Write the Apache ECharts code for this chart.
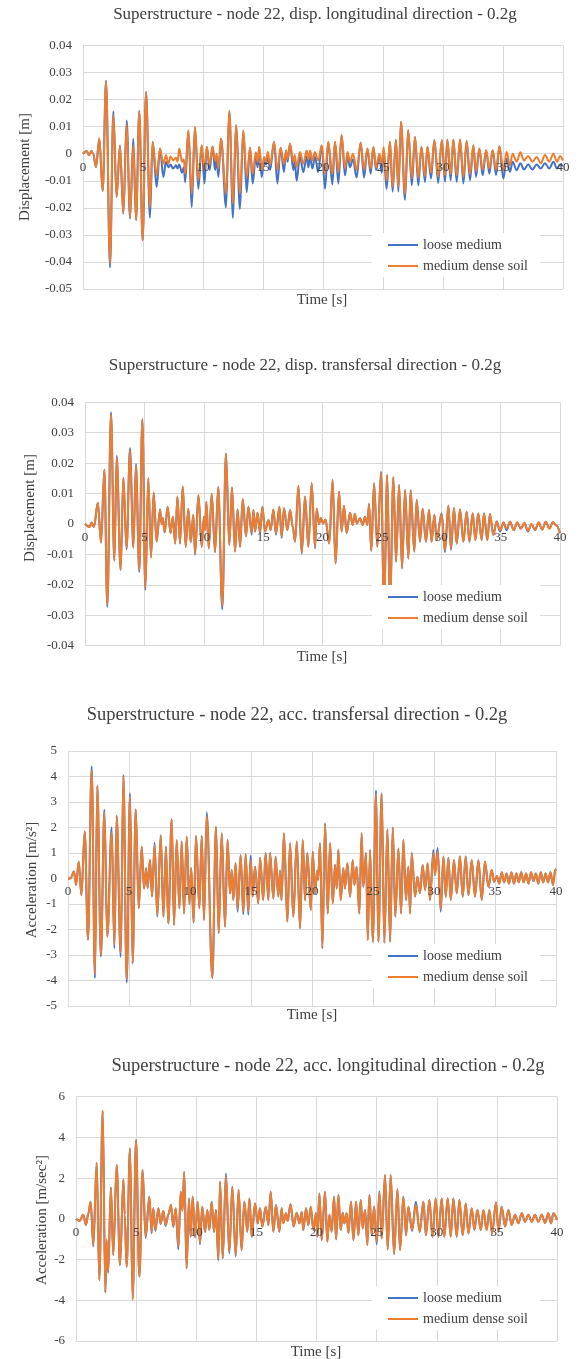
<!DOCTYPE html>
<html>
<head>
<meta charset="utf-8">
<script src="https://cdn.jsdelivr.net/npm/echarts@6/dist/echarts.min.js"></script>
<style>
html,body{margin:0;padding:0;background:#fff;}
#c{width:580px;height:1359px;}
</style>
</head>
<body>
<div id="c"></div>
<script>
// ---------- DATA ----------
var seriesNames = ['loose medium', 'medium dense soil'];
var xTicks = [0, 5, 10, 15, 20, 25, 30, 35, 40];
var titles = [
  'Superstructure - node 22, disp. longitudinal direction - 0.2g',
  'Superstructure - node 22, disp. transfersal direction - 0.2g',
  'Superstructure - node 22, acc. transfersal direction - 0.2g',
  'Superstructure - node 22, acc. longitudinal direction - 0.2g'
];
var yNames = ['Displacement [m]', 'Displacement [m]', 'Acceleration [m/s\u00B2]', 'Acceleration [m/sec\u00B2]'];
var xName = 'Time [s]';

// Chart 1: displacement, longitudinal
var time1 = [
0, 0.3, 0.5, 0.7, 0.85, 1.08, 1.36, 1.64,
1.92, 2.25, 2.53, 2.8, 3.08, 3.36, 3.64, 3.92,
4.19, 4.42, 4.69, 4.97, 5.25, 5.58, 5.8, 6.14,
6.42, 6.69, 6.92, 7.11, 7.3, 7.5, 7.75, 7.88,
8.02, 8.25, 8.4, 8.52, 8.78, 9.06, 9.33, 9.61,
9.89, 10.12, 10.32, 10.55, 10.8, 11.0, 11.14, 11.28,
11.5, 11.92, 12.19, 12.5, 12.75, 13.08, 13.36, 13.64,
13.92, 14.14, 14.4, 14.55, 14.69, 14.89, 15.1, 15.25,
15.4, 15.6, 15.92, 16.2, 16.47, 16.75, 16.92, 17.05,
17.25, 17.53, 17.65, 17.8, 18.08, 18.36, 18.64, 18.78,
18.92, 19.12, 19.33, 19.6, 19.89, 20.17, 20.44, 20.78,
21.0, 21.28, 21.55, 21.83, 22.05, 22.25, 22.5, 22.8,
23.14, 23.42, 23.7, 23.97, 24.2, 24.42, 24.7, 24.9,
25.05, 25.3, 25.58, 25.8, 26.08, 26.28, 26.5, 26.83,
27.1, 27.4, 27.67, 27.94, 28.2, 28.5, 28.7, 29.0,
29.28, 29.6, 29.9, 30.17, 30.36, 30.64, 30.86, 31.14,
31.42, 31.7, 31.97, 32.25, 32.53, 32.75, 33.03, 33.3,
33.6, 33.86, 34.14, 34.42, 34.7, 35.03, 35.3, 35.58,
35.8, 36.14, 36.45, 36.75, 37.1, 37.45, 37.8, 38.15,
38.5, 38.85, 39.2, 39.5, 39.75, 40
];
var loose1 = [
0, 0.001, -0.0005, 0.001, 0, -0.005, 0.0056, -0.0138,
0.027, -0.042, 0.0157, -0.016, 0.003, -0.0222, 0.0123, -0.024,
0.0056, -0.0245, 0.0158, -0.032, 0.0228, -0.0237, 0.0043, -0.0123,
0.0019, -0.0086, -0.003, -0.005, -0.004, -0.0055, -0.0043, -0.0055,
-0.004, -0.007, -0.005, -0.0105, 0.0086, -0.0198, 0.0099, -0.013,
0.003, -0.011, 0.0025, -0.006, 0.0027, -0.006, -0.002, -0.0086,
0.0055, -0.0198, 0.0158, -0.0237, 0.0105, -0.0204, 0.0086, -0.0142,
0.0022, -0.011, -0.001, -0.005, 0.0025, -0.0086, -0.002, -0.004,
-0.001, -0.006, 0.0043, -0.011, 0.0022, -0.0068, 0.0012, -0.003,
0.0037, -0.006, -0.003, -0.01, -0.001, -0.0068, -0.001, -0.005,
-0.0012, -0.0055, -0.001, -0.0068, 0.003, -0.013, 0.0043, -0.0113,
0.0043, -0.011, 0.0068, -0.008, -0.001, -0.005, -0.002, -0.0088,
0.0041, -0.0088, 0.0019, -0.0074, 0.0025, -0.006, -0.001, -0.007,
0.001, -0.013, 0.0044, -0.014, 0.0052, -0.014, 0.0118, -0.017,
0.0087, -0.0117, 0.0062, -0.0117, 0.0025, -0.0105, 0.0025, -0.0092,
0.005, -0.0108, 0.005, -0.0104, 0.0052, -0.0098, 0.0052, -0.0104,
0.0052, -0.011, 0.0047, -0.0098, 0.003, -0.0086, 0.0019, -0.008,
0.0013, -0.0074, 0.0013, -0.008, 0.0028, -0.0092, -0.0018, -0.0067,
-0.003, -0.0061, -0.0035, -0.0058, -0.004, -0.0058, -0.004, -0.0055,
-0.0035, -0.0055, -0.003, -0.0055, -0.004, -0.0045
];
var dense1 = [
0, 0.001, -0.0005, 0.001, 0, -0.005, 0.0056, -0.0138,
0.027, -0.0405, 0.0142, -0.016, 0.003, -0.022, 0.011, -0.0235,
0.003, -0.0245, 0.0155, -0.032, 0.0228, -0.0198, 0.0043, -0.008,
0.0019, -0.0037, -0.0006, -0.0037, -0.001, -0.0025, -0.0015, -0.003,
0.0019, -0.003, -0.002, -0.0074, 0.0086, -0.0148, 0.0099, -0.0099,
0.003, -0.006, 0.0025, -0.004, 0.0027, -0.0025, 0, -0.0055,
0.0055, -0.0148, 0.0158, -0.0185, 0.0105, -0.0148, 0.0086, -0.0086,
0.0022, -0.0074, 0.0005, -0.003, 0.0025, -0.006, -0.0012, -0.003,
0.0006, -0.004, 0.0043, -0.006, 0.0022, -0.0037, 0.0012, -0.002,
0.0037, -0.003, -0.0005, -0.005, 0.0006, -0.0037, 0.0012, -0.002,
0.0012, -0.0025, 0.0006, -0.0025, 0.003, -0.0074, 0.0043, -0.0074,
0.0043, -0.0068, 0.0068, -0.0055, 0.0006, -0.003, 0, -0.006,
0.0041, -0.006, 0.0019, -0.0055, 0.0025, -0.005, 0, -0.0045,
0.0025, -0.01, 0.0044, -0.0123, 0.0052, -0.0123, 0.0118, -0.0148,
0.0087, -0.009, 0.0062, -0.009, 0.0025, -0.0083, 0.0025, -0.007,
0.005, -0.0086, 0.005, -0.008, 0.0052, -0.0075, 0.0052, -0.008,
0.0052, -0.0085, 0.0047, -0.0075, 0.003, -0.0065, 0.0019, -0.006,
0.0013, -0.0055, 0.0013, -0.006, 0.0028, -0.0061, 0.0007, -0.0043,
0, -0.003, 0.0005, -0.0025, -0.0008, -0.003, -0.0012, -0.0035,
-0.0005, -0.003, 0, -0.003, -0.0008, -0.0025
];

// Chart 2: displacement, transversal
var time2 = [
0, 0.4, 0.55, 0.75, 1.08, 1.35, 1.63, 1.88,
2.19, 2.47, 2.67, 3.0, 3.23, 3.5, 3.79, 4.07,
4.29, 4.57, 4.83, 5.08, 5.33, 5.56, 5.78, 6.03,
6.32, 6.45, 6.55, 6.71, 6.96, 7.2, 7.4, 7.6,
7.78, 8.0, 8.23, 8.48, 8.7, 8.9, 9.12, 9.27,
9.55, 9.83, 10.02, 10.12, 10.22, 10.42, 10.67, 10.95,
11.22, 11.56, 11.87, 12.15, 12.38, 12.63, 12.85, 13.06,
13.28, 13.56, 13.76, 14.04, 14.18, 14.32, 14.52, 14.74,
14.94, 15.16, 15.44, 15.64, 15.86, 16.08, 16.37, 16.56,
16.76, 17.04, 17.27, 17.5, 17.69, 17.97, 18.25, 18.53,
18.81, 19.09, 19.37, 19.51, 19.7, 19.85, 20.05, 20.25,
20.57, 20.85, 21.1, 21.39, 21.61, 21.81, 22.03, 22.32,
22.54, 22.73, 22.88, 23.16, 23.38, 23.58, 23.78, 23.92,
24.11, 24.34, 24.62, 24.93, 25.18, 25.45, 25.68, 25.97,
26.19, 26.45, 26.7, 26.95, 27.23, 27.42, 27.73, 27.93,
28.21, 28.43, 28.71, 28.97, 29.19, 29.42, 29.61, 30.03,
30.31, 30.6, 30.82, 31.07, 31.3, 31.58, 31.86, 32.14,
32.37, 32.65, 32.87, 33.12, 33.4, 33.6, 33.88, 34.1,
34.38, 34.67, 34.95, 35.25, 35.5, 35.8, 36.1, 36.4,
36.7, 37.0, 37.3, 37.6, 37.9, 38.2, 38.5, 38.8,
39.1, 39.4, 39.7, 40
];
var loose2 = [
0, -0.001, 0.0005, -0.001, 0.007, -0.0061, 0.0178, -0.0272,
0.0367, -0.012, 0.0224, -0.0151, 0.0152, -0.0083, 0.0249, -0.0077,
0.0197, -0.0157, 0.0344, -0.0217, 0.015, -0.011, 0.0103, -0.0058,
0.0048, 0, 0.002, -0.0028, 0.0057, -0.003, 0.0024, -0.0064,
0.009, -0.0064, 0.0123, -0.0075, 0.005, -0.006, 0.003, -0.01,
0.0095, -0.0075, 0.0024, -0.002, 0.0073, -0.008, 0.0099, -0.0093,
0.0122, -0.028, 0.0232, -0.0069, 0.012, -0.009, 0.0048, -0.0075,
0.0081, -0.004, 0.0057, -0.0035, 0.0046, -0.0025, 0.0037, -0.003,
0.0057, -0.0025, 0.0013, -0.002, 0.0048, -0.0035, 0.0057, -0.0045,
0.0052, -0.002, 0.0046, -0.001, -0.0058, 0.0125, -0.0098, 0.009,
-0.0075, 0.0134, -0.008, 0.005, 0, 0.002, 0.0002, 0.0015,
-0.0064, 0.0145, -0.013, 0.0106, -0.0025, 0.006, -0.003, 0.0037,
-0.0003, 0.0033, 0.0002, 0.0019, -0.0003, 0.0024, -0.0003, 0.0066,
-0.0088, 0.0134, -0.0075, 0.0172, -0.0275, 0.0161, -0.0275, 0.0154,
-0.0124, 0.0128, -0.0146, 0.0112, -0.0113, 0.0112, -0.0091, 0.0079,
-0.0058, 0.005, -0.0058, 0.0046, -0.0058, 0.003, -0.0053, 0.0035,
-0.0092, 0.006, -0.0085, 0.0052, -0.0064, 0.0048, -0.0058, 0.004,
-0.0058, 0.0035, -0.0053, 0.0035, -0.0053, 0.0035, -0.0053, 0.0033,
-0.0036, 0.0008, -0.0025, 0.0005, -0.002, 0.0007, -0.002, 0.0005,
-0.0015, 0.0003, -0.0025, 0, -0.002, 0.0005, -0.0018, 0.0007,
-0.0015, 0.0006, -0.0005, -0.003
];
var dense2 = [
0, -0.001, 0.0005, -0.001, 0.007, -0.0061, 0.0178, -0.0265,
0.036, -0.012, 0.0218, -0.0151, 0.0152, -0.0078, 0.0242, -0.0077,
0.019, -0.015, 0.0344, -0.021, 0.015, -0.011, 0.0103, -0.0058,
0.0048, 0, 0.002, -0.0025, 0.0057, -0.003, 0.0024, -0.0064,
0.009, -0.0064, 0.0123, -0.0075, 0.005, -0.006, 0.003, -0.0097,
0.0095, -0.0075, 0.0024, -0.002, 0.0073, -0.008, 0.0099, -0.009,
0.012, -0.027, 0.0232, -0.0069, 0.012, -0.009, 0.0048, -0.0075,
0.0081, -0.004, 0.0057, -0.003, 0.0046, -0.0025, 0.0037, -0.0025,
0.0057, -0.0025, 0.0013, -0.002, 0.0048, -0.003, 0.0057, -0.004,
0.0052, -0.002, 0.0046, -0.001, -0.0058, 0.0125, -0.0094, 0.009,
-0.0075, 0.0134, -0.0075, 0.005, 0, 0.002, 0.0002, 0.0015,
-0.0064, 0.0145, -0.013, 0.0106, -0.0025, 0.006, -0.003, 0.0037,
-0.0003, 0.0033, 0.0002, 0.0019, -0.0003, 0.0024, -0.0003, 0.0066,
-0.0088, 0.0134, -0.0075, 0.0167, -0.027, 0.0161, -0.027, 0.0154,
-0.0124, 0.0128, -0.0146, 0.0112, -0.0113, 0.0112, -0.0091, 0.0079,
-0.0058, 0.005, -0.0058, 0.0046, -0.0058, 0.003, -0.0053, 0.0033,
-0.0086, 0.006, -0.008, 0.0052, -0.0064, 0.0048, -0.0058, 0.004,
-0.0058, 0.0035, -0.0053, 0.0035, -0.0053, 0.0035, -0.0053, 0.0033,
-0.0036, 0.0008, -0.002, 0.0005, -0.0015, 0.0007, -0.002, 0.0005,
-0.0015, 0.0003, -0.0022, 0, -0.002, 0.0005, -0.0018, 0.0007,
-0.0015, 0.0006, -0.0005, -0.003
];

// Chart 3: acceleration, transversal
var time3 = [
0, 0.2, 0.49, 0.66, 0.88, 1.1, 1.37, 1.64,
1.94, 2.21, 2.4, 2.7, 2.98, 3.22, 3.58, 3.8,
3.99, 4.32, 4.54, 4.81, 5.08, 5.3, 5.55, 5.8,
6.04, 6.23, 6.4, 6.53, 6.72, 6.89, 7.1, 7.32,
7.6, 7.82, 8.03, 8.22, 8.5, 8.69, 8.91, 9.13,
9.32, 9.51, 9.73, 9.95, 10.1, 10.3, 10.49, 10.77,
10.96, 11.15, 11.37, 11.83, 12.13, 12.35, 12.6, 12.87,
13.08, 13.28, 13.42, 13.55, 13.74, 13.9, 14.15, 14.37,
14.56, 14.78, 14.97, 15.14, 15.33, 15.6, 15.74, 16.0,
16.2, 16.42, 16.56, 16.83, 17.02, 17.24, 17.38, 17.5,
17.7, 17.98, 18.2, 18.47, 18.75, 19.02, 19.24, 19.43,
19.62, 19.9, 20.06, 20.25, 20.42, 20.5, 20.66, 20.85,
21.07, 21.29, 21.48, 21.7, 21.89, 22.03, 22.16, 22.35,
22.57, 22.7, 22.9, 23.12, 23.34, 23.47, 23.66, 23.88,
24.07, 24.2, 24.43, 24.57, 24.76, 24.98, 25.25, 25.44,
25.71, 25.93, 26.18, 26.4, 26.62, 26.83, 27.08, 27.3,
27.49, 27.7, 27.9, 28.04, 28.17, 28.45, 28.64, 28.85,
29.07, 29.27, 29.48, 29.67, 29.95, 30.08, 30.3, 30.55,
30.77, 30.96, 31.18, 31.37, 31.64, 31.86, 32.13, 32.35,
32.6, 32.82, 33.09, 33.36, 33.64, 33.91, 34.18, 34.46,
34.73, 34.92, 35.15, 35.35, 35.55, 35.75, 35.95, 36.15,
36.35, 36.55, 36.75, 36.95, 37.15, 37.35, 37.55, 37.75,
37.95, 38.15, 38.35, 38.55, 38.75, 38.95, 39.15, 39.35,
39.55, 39.75, 39.95, 40
];
var loose3 = [
0, 0, 0.27, -0.25, 0.66, -0.65, 1.84, -2.4,
4.4, -3.9, 3.63, -3.06, 2.7, -2.28, 2.0, -2.74,
2.45, -3.07, 4.06, -4.08, 3.34, -3.33, 2.71, -1.17,
1.25, -0.39, 0.4, -0.38, 0.73, -0.7, 1.4, -1.5,
1.7, -1.5, 1.25, -1.76, 2.32, -1.82, 1.5, -1.17,
1.45, -1.37, 1.64, -1.0, 0.4, -1.73, 1.67, -1.17,
1.67, -1.63, 2.6, -3.9, 2.03, -2.15, 1.77, -1.89,
1.51, -0.58, 0.33, -0.84, 0.6, -1.3, 0.92, -1.4,
0.96, -1.42, 0.9, -0.7, 0.46, -0.97, 0.8, -0.84,
1.0, -0.84, 1.0, -0.78, 0.85, -0.71, 0.3, -0.85,
1.77, -1.69, 1.38, -1.5, 1.45, -1.95, 1.51, -0.85,
1.0, -1.24, 1.05, -0.58, 0.3, -0.05, 1.38, -2.74,
2.16, -1.37, 1.38, -0.97, 0.53, -0.39, 1.12, -0.84,
0.4, -0.39, 0.6, -0.71, 0.72, -0.25, 0.46, -1.37,
1.77, -0.32, 1.0, -2.41, 1.12, -2.48, 3.45, -2.48,
3.34, -2.52, 1.93, -2.48, 2.0, -1.5, 1.18, -1.37,
1.51, -0.84, 0.46, -1.37, 1.0, -0.71, 0.07, -0.58,
0.53, -0.45, 0.6, -0.84, 1.12, 0.14, 1.2, -1.3,
0.86, -0.71, 0.8, -0.84, 0.72, -0.58, 0.86, -0.71,
0.86, -0.65, 0.72, -0.71, 0.72, -0.84, 0.66, -0.32,
0.33, -0.13, 0.1, -0.2, 0.25, -0.15, 0.2, -0.2,
0.25, -0.2, 0.2, -0.15, 0.25, -0.15, 0.2, -0.2,
0.25, -0.1, 0.2, -0.2, 0.25, -0.15, 0.2, -0.15,
0.25, -0.25, 0.35, 0.3
];
var dense3 = [
0, 0, 0.27, -0.25, 0.66, -0.65, 1.84, -2.4,
4.25, -3.75, 3.63, -3.0, 2.6, -2.28, 1.8, -2.6,
2.45, -2.9, 4.0, -3.95, 3.2, -3.3, 2.71, -1.17,
1.25, -0.39, 0.4, -0.38, 0.73, -0.7, 1.3, -1.45,
1.7, -1.5, 1.25, -1.76, 2.32, -1.82, 1.5, -1.17,
1.45, -1.37, 1.64, -1.0, 0.4, -1.73, 1.67, -1.17,
1.67, -1.63, 2.45, -3.9, 2.03, -2.15, 1.77, -1.89,
1.51, -0.58, 0.33, -0.84, 0.6, -1.2, 0.92, -1.3,
0.96, -1.3, 0.72, -0.7, 0.46, -0.97, 0.8, -0.84,
1.0, -0.84, 1.0, -0.78, 0.85, -0.71, 0.3, -0.85,
1.77, -1.69, 1.38, -1.5, 1.45, -1.95, 1.51, -0.85,
1.0, -1.24, 1.05, -0.58, 0.3, -0.05, 1.38, -2.74,
2.16, -1.37, 1.38, -0.97, 0.53, -0.39, 1.12, -0.84,
0.4, -0.39, 0.6, -0.71, 0.72, -0.25, 0.46, -1.37,
1.77, -0.32, 1.0, -2.41, 1.12, -2.48, 3.3, -2.48,
3.3, -2.52, 1.93, -2.48, 2.0, -1.5, 1.18, -1.37,
1.51, -0.84, 0.46, -1.37, 1.0, -0.71, 0.07, -0.58,
0.53, -0.45, 0.6, -0.84, 1.0, 0.14, 1.05, -1.2,
0.86, -0.71, 0.8, -0.84, 0.72, -0.58, 0.86, -0.71,
0.86, -0.65, 0.72, -0.71, 0.72, -0.84, 0.66, -0.32,
0.33, -0.13, 0.1, -0.2, 0.25, -0.15, 0.2, -0.2,
0.25, -0.2, 0.2, -0.15, 0.25, -0.15, 0.2, -0.2,
0.25, -0.1, 0.2, -0.2, 0.25, -0.15, 0.2, -0.15,
0.25, -0.25, 0.35, 0.3
];

// Chart 4: acceleration, longitudinal
var time4 = [
0, 0.3, 0.6, 0.83, 1.02, 1.22, 1.44, 1.72,
1.94, 2.22, 2.44, 2.55, 2.68, 2.9, 3.1, 3.38,
3.66, 3.94, 4.05, 4.21, 4.49, 4.71, 4.99, 5.27,
5.54, 5.79, 6.1, 6.29, 6.43, 6.6, 6.85, 7.04,
7.26, 7.45, 7.68, 7.9, 8.09, 8.29, 8.51, 8.71,
8.85, 9.0, 9.2, 9.39, 9.53, 9.7, 9.9, 10.12,
10.31, 10.5, 10.73, 10.92, 11.09, 11.28, 11.48, 11.64,
11.84, 11.98, 12.2, 12.47, 12.75, 13.0, 13.28, 13.52,
13.77, 14.0, 14.25, 14.42, 14.61, 14.89, 15.11, 15.3,
15.5, 15.78, 16.0, 16.19, 16.41, 16.63, 16.91, 17.1,
17.24, 17.46, 17.6, 17.84, 18.1, 18.35, 18.58, 18.77,
18.9, 19.13, 19.32, 19.52, 19.74, 19.96, 20.07, 20.24,
20.43, 20.71, 20.9, 21.07, 21.26, 21.46, 21.63, 21.82,
22.01, 22.18, 22.32, 22.51, 22.65, 22.87, 23.07, 23.29,
23.48, 23.68, 23.84, 24.04, 24.23, 24.4, 24.59, 24.79,
25.01, 25.23, 25.42, 25.7, 25.92, 26.17, 26.45, 26.73,
26.95, 27.22, 27.45, 27.64, 27.95, 28.26, 28.58, 28.89,
29.1, 29.39, 29.64, 29.91, 30.14, 30.41, 30.63, 30.91,
31.16, 31.38, 31.66, 31.88, 32.16, 32.41, 32.63, 32.91,
33.13, 33.38, 33.66, 33.88, 34.15, 34.38, 34.6, 34.93,
35.13, 35.4, 35.68, 35.96, 36.23, 36.51, 36.79, 37.07,
37.34, 37.62, 37.9, 38.17, 38.45, 38.73, 39.0, 39.28,
39.5, 39.7, 40
];
var loose4 = [
0, -0.1, 0.2, -0.3, 0.25, 0.84, -1.35, 2.76,
-3.0, 5.31, -3.62, -1.1, -2.65, 1.55, -1.78, 2.64,
-2.27, 1.94, 0.2, -2.35, 3.46, -3.9, 3.87, -2.84,
2.4, -0.95, 1.09, -0.7, 0.52, -0.6, 0.52, -0.25,
0.4, -0.35, 0.2, 0.68, -0.4, 0.52, -1.5, 1.33,
0.4, 2.3, -2.43, 1.0, -0.88, 1.09, -0.9, 0.84,
-1.25, 0.6, -0.65, 0.43, -0.55, 0.84, -0.65, 0.43,
-2.05, 1.82, -1.94, 2.23, -1.7, 1.58, -1.85, 1.42,
-1.55, 0.84, -0.63, 1.0, -0.88, 0.76, -0.22, 0.52,
-0.38, 0.6, -0.3, 1.33, -0.63, 0.68, -0.63, 0.52,
-0.22, 0.27, -0.1, 0.72, -0.38, 0.3, -0.22, 0.35,
-0.55, 0.52, -0.3, 0.6, -0.55, 0.27, -0.88, 1.25,
-1.04, 1.33, -1.12, 0.2, -0.63, 1.09, -1.0, 1.17,
-0.55, 0.3, -0.22, 0.27, -0.7, 0.84, -1.04, 0.84,
-0.8, 0.92, -0.47, 0.43, -1.28, 1.17, -0.8, 0.6,
-1.25, 1.35, -0.96, 2.15, -1.5, 2.15, -1.73, 1.45,
-1.53, 1.09, -0.8, 0.6, -0.6, 0.84, -0.63, 0.84,
-0.8, 0.92, -0.88, 1.0, -0.88, 1.0, -0.88, 1.0,
-0.88, 1.0, -0.88, 0.92, -0.8, 0.76, -0.72, 0.52,
-0.55, 0.43, -0.55, 0.43, -0.55, 0.43, -0.72, 0.8,
-0.63, 0.6, -0.38, 0.43, -0.3, 0.2, -0.22, 0.27,
-0.14, 0.2, -0.14, 0.2, -0.14, 0.2, -0.2, 0.27,
-0.22, 0.27, -0.05
];
var dense4 = [
0, -0.1, 0.2, -0.3, 0.25, 0.84, -1.28, 2.76,
-3.0, 5.31, -3.62, -1.0, -2.55, 1.55, -1.78, 2.64,
-2.27, 1.94, 0.2, -2.35, 3.46, -3.98, 3.87, -2.84,
2.4, -0.88, 1.09, -0.64, 0.52, -0.55, 0.52, -0.22,
0.4, -0.3, 0.2, 0.68, -0.38, 0.52, -1.35, 1.33,
0.4, 2.3, -2.43, 1.0, -0.88, 1.09, -0.88, 0.84,
-1.2, 0.6, -0.63, 0.43, -0.55, 0.84, -0.63, 0.43,
-2.0, 1.82, -1.94, 2.1, -1.6, 1.58, -1.78, 1.42,
-1.53, 0.84, -0.63, 1.0, -0.88, 0.76, -0.22, 0.52,
-0.38, 0.6, -0.3, 1.33, -0.63, 0.68, -0.63, 0.52,
-0.22, 0.27, -0.1, 0.72, -0.38, 0.3, -0.22, 0.35,
-0.55, 0.52, -0.3, 0.6, -0.55, 0.27, -0.88, 1.25,
-1.04, 1.33, -1.12, 0.2, -0.63, 1.09, -1.0, 1.17,
-0.55, 0.3, -0.22, 0.27, -0.7, 0.84, -1.04, 0.84,
-0.8, 0.92, -0.47, 0.43, -1.28, 1.17, -0.8, 0.6,
-1.12, 1.28, -0.96, 2.15, -1.5, 2.15, -1.73, 1.45,
-1.53, 1.09, -0.8, 0.6, -0.55, 0.68, -0.63, 0.84,
-0.8, 0.92, -0.88, 1.0, -0.88, 1.0, -0.88, 1.0,
-0.88, 1.0, -0.88, 0.92, -0.8, 0.76, -0.72, 0.52,
-0.55, 0.43, -0.55, 0.43, -0.55, 0.43, -0.72, 0.8,
-0.63, 0.6, -0.38, 0.43, -0.3, 0.2, -0.22, 0.27,
-0.14, 0.2, -0.14, 0.2, -0.14, 0.2, -0.2, 0.27,
-0.22, 0.27, -0.05
];

// y axis ranges (min, max, interval)
var yMin = [-0.05, -0.04, -5, -6];
var yMax = [0.04, 0.04, 5, 6];
var yStep = [0.01, 0.01, 1, 2];

// ---------- LAYOUT ----------
var FONT = '"Liberation Serif", "Times New Roman", serif';
var TXT = '#404040';
var GRIDC = '#d9d9d9';
var BLUE = '#4472C4';
var ORANGE = '#ED7D31';

var grids = [
  {left: 83, top: 45.5, width: 480, height: 243.5},
  {left: 85, top: 402.3, width: 475, height: 243.4},
  {left: 68, top: 751, width: 488, height: 255},
  {left: 76, top: 1096.7, width: 481, height: 244.3}
];
var titlePos = [[315, 15, 17], [305, 366, 17], [297, 715, 18.5], [328, 1066, 18.5]];
var yNamePos = [[25, 167], [30, 508], [32, 880], [42, 1220]];
var xNamePos = [[322, 300], [322, 657], [312, 1015], [316, 1352]];
var legendPos = [[372, 233], [372, 585], [372, 944], [372, 1286]];

var times = [time1, time2, time3, time4];
var looses = [loose1, loose2, loose3, loose4];
var denses = [dense1, dense2, dense3, dense4];

function pairs(t, v) { return t.map(function (x, i) { return [x, v[i]]; }); }

var xAxes = [], xLabelAxes = [], yAxes = [], series = [], legends = [], graphics = [];
for (var k = 0; k < 4; k++) {
  // place the time axis (line + labels) on the zero line of the value axis
  var zeroOffset = -grids[k].height * (0 - yMin[k]) / (yMax[k] - yMin[k]);
  xAxes.push({
    type: 'value', gridIndex: k, min: 0, max: 40, interval: 5,
    position: 'bottom', offset: zeroOffset,
    axisLine: {show: true, onZero: false, lineStyle: {color: GRIDC, width: 1}},
    axisTick: {show: false},
    axisLabel: {show: false},
    splitLine: {show: true, lineStyle: {color: GRIDC, width: 1}}
  });
  // label-only copy of the time axis drawn above the curves
  xLabelAxes.push({
    type: 'value', gridIndex: k, min: 0, max: 40, interval: 5,
    position: 'bottom', offset: zeroOffset, z: 10,
    axisLine: {show: false, onZero: false},
    axisTick: {show: false},
    axisLabel: {color: TXT, fontFamily: FONT, fontSize: 13, margin: 7},
    splitLine: {show: false}
  });
  yAxes.push({
    type: 'value', gridIndex: k, min: yMin[k], max: yMax[k], interval: yStep[k],
    axisLine: {show: false}, axisTick: {show: false},
    axisLabel: {
      color: TXT, fontFamily: FONT, fontSize: 13, margin: 11,
      formatter: (function (kk) {
        return function (v) {
          if (Math.abs(v) < 1e-9) return '0';
          return kk < 2 ? v.toFixed(2) : String(Math.round(v));
        };
      })(k)
    },
    splitLine: {show: true, lineStyle: {color: GRIDC, width: 1}}
  });
  series.push({
    name: seriesNames[0], type: 'line', xAxisIndex: k, yAxisIndex: k,
    data: pairs(times[k], looses[k]), showSymbol: false, symbol: 'none',
    smooth: 0.35, smoothMonotone: 'x',
    lineStyle: {color: BLUE, width: 2}, itemStyle: {color: BLUE}, z: 2
  });
  series.push({
    name: seriesNames[1], type: 'line', xAxisIndex: k, yAxisIndex: k,
    data: pairs(times[k], denses[k]), showSymbol: false, symbol: 'none',
    smooth: 0.35, smoothMonotone: 'x',
    lineStyle: {color: ORANGE, width: 2}, itemStyle: {color: ORANGE}, z: 3
  });
  legends.push({
    data: seriesNames, orient: 'vertical', left: legendPos[k][0], top: legendPos[k][1],
    backgroundColor: '#ffffff', padding: [5, 12, 4, 16], itemGap: 7,
    icon: 'rect', itemWidth: 30, itemHeight: 2, selectedMode: false,
    textStyle: {color: TXT, fontFamily: FONT, fontSize: 14}
  });
  graphics.push({
    type: 'text', x: titlePos[k][0], y: titlePos[k][1],
    style: {text: titles[k], fill: TXT, font: titlePos[k][2] + 'px ' + FONT,
            textAlign: 'center', textVerticalAlign: 'middle'}
  });
  graphics.push({
    type: 'text', x: yNamePos[k][0], y: yNamePos[k][1], rotation: Math.PI / 2,
    style: {text: yNames[k], fill: TXT, font: '15px ' + FONT,
            textAlign: 'center', textVerticalAlign: 'middle'}
  });
  graphics.push({
    type: 'text', x: xNamePos[k][0], y: xNamePos[k][1],
    style: {text: xName, fill: TXT, font: '15px ' + FONT,
            textAlign: 'center', textVerticalAlign: 'middle'}
  });
}

var chart = echarts.init(document.getElementById('c'), null, {renderer: 'canvas'});
chart.setOption({
  backgroundColor: '#ffffff',
  animation: false,
  grid: grids,
  xAxis: xAxes.concat(xLabelAxes),
  yAxis: yAxes,
  legend: legends,
  series: series,
  graphic: graphics
});
</script>
</body>
</html>
